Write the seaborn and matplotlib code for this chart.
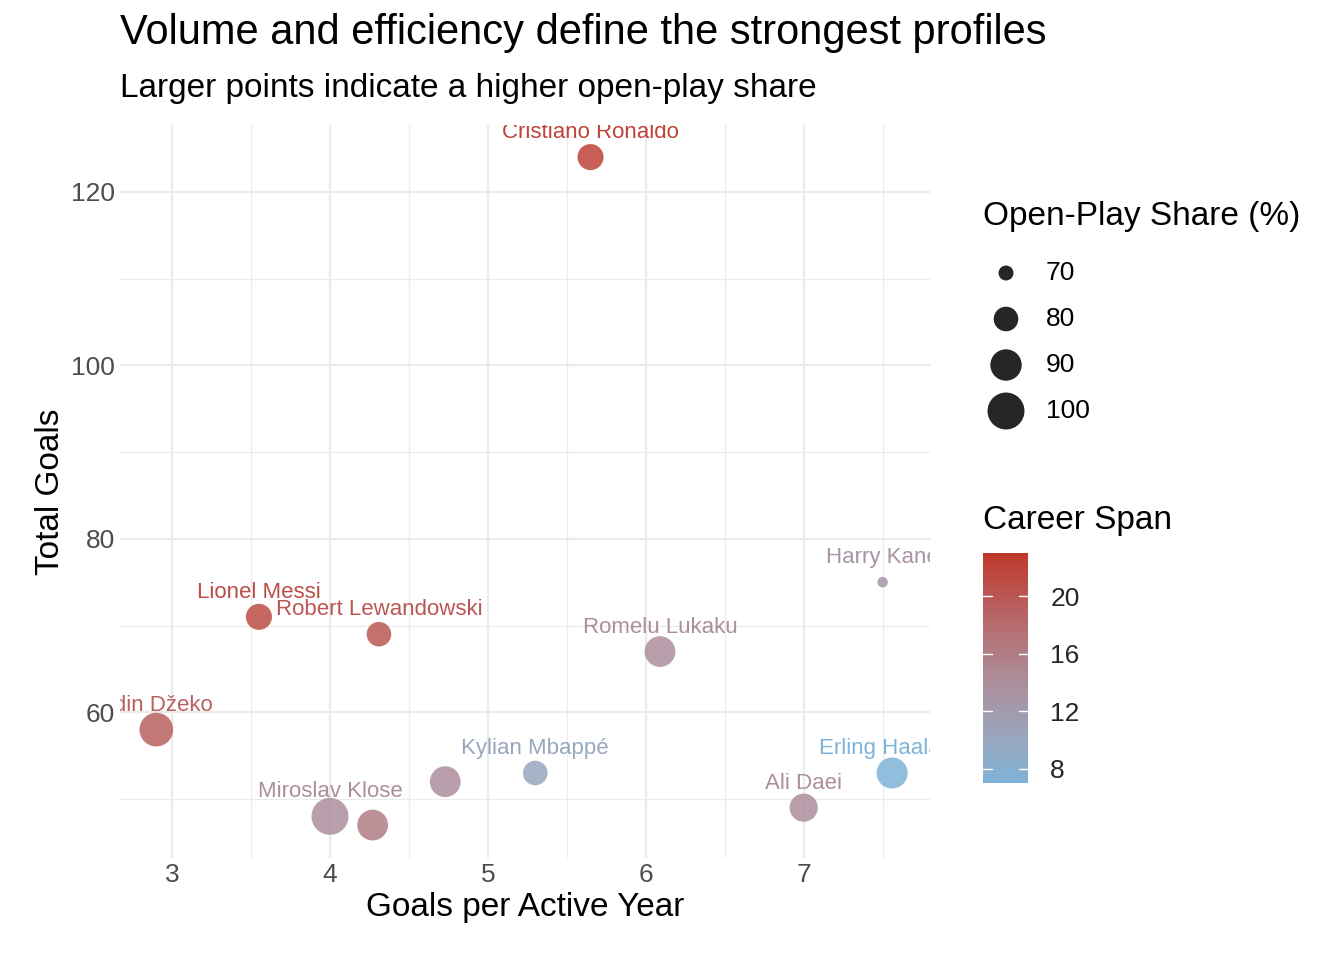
import numpy as np
import pandas as pd
import matplotlib
matplotlib.use("Agg")
import matplotlib.pyplot as plt
import seaborn as sns
from matplotlib.colors import LinearSegmentedColormap, Normalize

players = ["Cristiano Ronaldo", "Lionel Messi", "Robert Lewandowski", "Edin Džeko",
           "Romelu Lukaku", "Harry Kane", "Kylian Mbappé", "Erling Haaland",
           "Ali Daei", "Miroslav Klose", "", ""]
goals_per_year = [5.65, 3.55, 4.31, 2.90, 6.09, 7.50, 5.30, 7.56, 7.00, 4.00, 4.27, 4.73]
total_goals = [124, 71, 69, 58, 67, 75, 53, 53, 49, 48, 47, 52]
open_play = [82, 82, 80, 94, 89, 67, 80, 89.5, 85, 100, 89, 89]
career_span = [22, 21, 20, 19, 14, 13, 10, 7, 14, 14, 16, 14]

df = pd.DataFrame(dict(player=players, x=goals_per_year, y=total_goals,
                       share=open_play, span=career_span))

def size_pt2(share):
    r2 = 56 + (np.asarray(share, float) - 70) * 9.53
    r2 = np.maximum(r2, 20)
    return 2.07 * r2

cmap = LinearSegmentedColormap.from_list(
    "span", [(0, "#7fb3d9"), (0.2, "#9aa6bd"), (0.45, "#ad8d9a"), (0.7, "#b76a6d"), (1, "#c0392b")])
norm = Normalize(7, 23)

sns.set_theme(style="whitegrid")
plt.rcParams['font.family'] = ['Liberation Sans', 'DejaVu Sans']
plt.rcParams['text.color'] = 'black'
fig = plt.figure(figsize=(13.44, 9.6), dpi=100)
ax = fig.add_axes([120/1344, 102/960, 810/1344, 733/960])

df["s"] = size_pt2(df["share"])
sns.scatterplot(data=df, x="x", y="y", hue="span", hue_norm=norm, palette=cmap,
                size="s", sizes=(df["s"].min(), df["s"].max()), size_norm=(df["s"].min(), df["s"].max()),
                alpha=0.85, edgecolor="none", legend=False, ax=ax)
ax.collections[0].set_sizes(df["s"].values)

for _, r in df.iterrows():
    if r.player:
        ax.text(r.x, r.y + 1.6, r.player, color=cmap(norm(r.span)), ha="center",
                va="bottom", fontsize=16, clip_on=True)

ax.set_xlim(2.67, 7.80)
ax.set_ylim(43.2, 127.7)
ax.set_xticks([3, 4, 5, 6, 7])
ax.set_yticks([60, 80, 100, 120])
ax.set_xticks([3.5, 4.5, 5.5, 6.5, 7.5], minor=True)
ax.set_yticks([50, 70, 90, 110], minor=True)
ax.grid(which="major", color="#ebebeb", linewidth=1.6)
ax.grid(which="minor", color="#ebebeb", linewidth=0.9)
for sp in ax.spines.values():
    sp.set_visible(False)
ax.tick_params(axis="both", which="both", length=0, labelsize=19, labelcolor="#4d4d4d")
ax.set_xlabel("Goals per Active Year", fontsize=24, color="black")
ax.set_ylabel("Total Goals", fontsize=24, color="black")
ax.set_facecolor("white")

fig.text(120/1344, 1 - 33/960, "Volume and efficiency define the strongest profiles",
         fontsize=30, va="center")
fig.text(120/1344, 1 - 88/960, "Larger points indicate a higher open-play share",
         fontsize=24, va="center")

lg = fig.add_axes([0, 0, 1, 1], zorder=-1)
lg.set_xlim(0, 1344); lg.set_ylim(960, 0); lg.axis("off")
lg.text(983, 217, "Open-Play Share (%)", fontsize=24, va="center")
for v, yy in zip([70, 80, 90, 100], [273, 319, 365, 411]):
    lg.scatter([1006], [yy], s=size_pt2(v), color="#1a1a1a", alpha=0.95, edgecolor="none")
    lg.text(1046, yy, str(v), fontsize=19, va="center")
lg.text(983, 520, "Career Span", fontsize=24, va="center")

cax = fig.add_axes([983/1344, (960-783)/960, 45/1344, 230/960])
grad = np.linspace(7, 23, 256).reshape(-1, 1)
cax.imshow(grad, aspect="auto", cmap=cmap, norm=norm, origin="lower", extent=[0, 1, 7, 23])
cax.set_xticks([])
cax.yaxis.tick_right()
cax.set_yticks([8, 12, 16, 20])
cax.tick_params(axis="y", length=0, labelsize=19, pad=16)
for t in [8, 12, 16, 20]:
    cax.plot([0, 0.2], [t, t], color="white", lw=1)
    cax.plot([0.8, 1], [t, t], color="white", lw=1)
cax.set_xlim(0, 1); cax.set_ylim(7, 23)
for sp in cax.spines.values():
    sp.set_visible(False)
cax.grid(False)

fig.savefig("out.png", dpi=100, facecolor="white")
